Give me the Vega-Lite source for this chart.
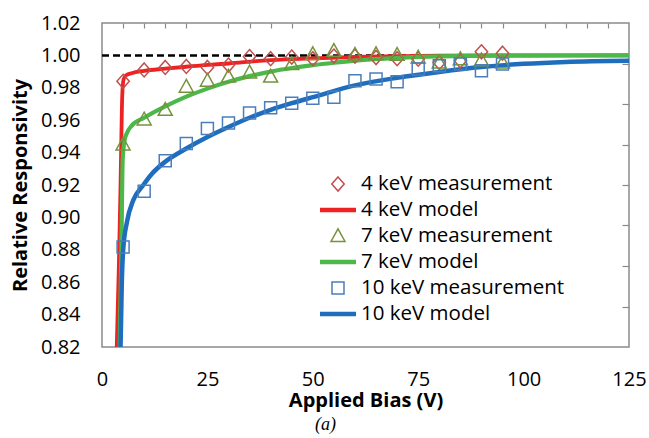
{
  "$schema": "https://vega.github.io/schema/vega-lite/v6.json",
  "width": 527,
  "height": 324,
  "autosize": "none",
  "padding": {"left": 102, "top": 23, "right": 20, "bottom": 91},
  "background": "white",
  "config": {
    "font": "Open Sans",
    "view": {"stroke": "#8a8a8a", "strokeWidth": 1.5},
    "axis": {"domain": false, "grid": true, "ticks": false, "tickSize": 0, "gridColor": "#8a8a8a", "gridWidth": 1.2, "gridOpacity": 1, "labelColor": "#000", "titleColor": "#000", "labelFont": "Open Sans", "titleFont": "Open Sans", "labelFontSize": 20, "titleFontSize": 20, "titleFontWeight": "bold", "labelOverlap": false, "labelFlush": false}
  },
  "title": {"text": "(a)", "orient": "bottom", "font": "Liberation Serif", "fontStyle": "italic", "fontWeight": "normal", "fontSize": 18, "color": "#000", "anchor": "middle", "dx": -40, "offset": 6},
  "datasets": {
    "meas": [
      {"series": "4 keV measurement", "x": 5, "y": 0.984}, {"series": "4 keV measurement", "x": 10, "y": 0.991}, {"series": "4 keV measurement", "x": 15, "y": 0.9926}, {"series": "4 keV measurement", "x": 20, "y": 0.9932}, {"series": "4 keV measurement", "x": 25, "y": 0.9926}, {"series": "4 keV measurement", "x": 30, "y": 0.994}, {"series": "4 keV measurement", "x": 35, "y": 0.9993}, {"series": "4 keV measurement", "x": 40, "y": 0.998}, {"series": "4 keV measurement", "x": 45, "y": 0.999}, {"series": "4 keV measurement", "x": 50, "y": 0.998}, {"series": "4 keV measurement", "x": 55, "y": 0.9996}, {"series": "4 keV measurement", "x": 60, "y": 0.9995}, {"series": "4 keV measurement", "x": 65, "y": 0.9987}, {"series": "4 keV measurement", "x": 70, "y": 0.998}, {"series": "4 keV measurement", "x": 75, "y": 0.9977}, {"series": "4 keV measurement", "x": 80, "y": 0.9956}, {"series": "4 keV measurement", "x": 85, "y": 0.9967}, {"series": "4 keV measurement", "x": 90, "y": 1.0022}, {"series": "4 keV measurement", "x": 95, "y": 1.0014},
      {"series": "7 keV measurement", "x": 5, "y": 0.945}, {"series": "7 keV measurement", "x": 10, "y": 0.9605}, {"series": "7 keV measurement", "x": 15, "y": 0.9664}, {"series": "7 keV measurement", "x": 20, "y": 0.9807}, {"series": "7 keV measurement", "x": 25, "y": 0.9844}, {"series": "7 keV measurement", "x": 30, "y": 0.9869}, {"series": "7 keV measurement", "x": 35, "y": 0.9895}, {"series": "7 keV measurement", "x": 40, "y": 0.9869}, {"series": "7 keV measurement", "x": 45, "y": 0.9947}, {"series": "7 keV measurement", "x": 50, "y": 1.0008}, {"series": "7 keV measurement", "x": 55, "y": 1.0028}, {"series": "7 keV measurement", "x": 60, "y": 1.0004}, {"series": "7 keV measurement", "x": 65, "y": 1.0008}, {"series": "7 keV measurement", "x": 70, "y": 1.0004}, {"series": "7 keV measurement", "x": 75, "y": 0.9987}, {"series": "7 keV measurement", "x": 80, "y": 0.9956}, {"series": "7 keV measurement", "x": 85, "y": 0.9977}, {"series": "7 keV measurement", "x": 90, "y": 0.997}, {"series": "7 keV measurement", "x": 95, "y": 0.9956},
      {"series": "10 keV measurement", "x": 5, "y": 0.8818}, {"series": "10 keV measurement", "x": 10, "y": 0.9161}, {"series": "10 keV measurement", "x": 15, "y": 0.935}, {"series": "10 keV measurement", "x": 20, "y": 0.9456}, {"series": "10 keV measurement", "x": 25, "y": 0.9548}, {"series": "10 keV measurement", "x": 30, "y": 0.9582}, {"series": "10 keV measurement", "x": 35, "y": 0.9644}, {"series": "10 keV measurement", "x": 40, "y": 0.9677}, {"series": "10 keV measurement", "x": 45, "y": 0.9705}, {"series": "10 keV measurement", "x": 50, "y": 0.9736}, {"series": "10 keV measurement", "x": 55, "y": 0.9742}, {"series": "10 keV measurement", "x": 60, "y": 0.9844}, {"series": "10 keV measurement", "x": 65, "y": 0.9855}, {"series": "10 keV measurement", "x": 70, "y": 0.9838}, {"series": "10 keV measurement", "x": 75, "y": 0.9916}, {"series": "10 keV measurement", "x": 80, "y": 0.9936}, {"series": "10 keV measurement", "x": 85, "y": 0.9947}, {"series": "10 keV measurement", "x": 90, "y": 0.9906}, {"series": "10 keV measurement", "x": 95, "y": 0.9947}
    ],
    "model": [
      {"series": "4 keV model", "x": 3.5, "y": 0.82}, {"series": "4 keV model", "x": 4.0, "y": 0.87}, {"series": "4 keV model", "x": 4.4, "y": 0.92}, {"series": "4 keV model", "x": 4.6, "y": 0.95}, {"series": "4 keV model", "x": 4.8, "y": 0.975}, {"series": "4 keV model", "x": 5.1, "y": 0.985}, {"series": "4 keV model", "x": 5.6, "y": 0.9875}, {"series": "4 keV model", "x": 7, "y": 0.989}, {"series": "4 keV model", "x": 10, "y": 0.9905}, {"series": "4 keV model", "x": 15, "y": 0.9918}, {"series": "4 keV model", "x": 20, "y": 0.993}, {"series": "4 keV model", "x": 30, "y": 0.995}, {"series": "4 keV model", "x": 40, "y": 0.9971}, {"series": "4 keV model", "x": 50, "y": 0.9982}, {"series": "4 keV model", "x": 60, "y": 0.999}, {"series": "4 keV model", "x": 70, "y": 0.9995}, {"series": "4 keV model", "x": 80, "y": 0.9998}, {"series": "4 keV model", "x": 100, "y": 1.0}, {"series": "4 keV model", "x": 125, "y": 1.0},
      {"series": "7 keV model", "x": 4.2, "y": 0.82}, {"series": "7 keV model", "x": 4.6, "y": 0.88}, {"series": "7 keV model", "x": 4.9, "y": 0.935}, {"series": "7 keV model", "x": 5.3, "y": 0.947}, {"series": "7 keV model", "x": 5.9, "y": 0.952}, {"series": "7 keV model", "x": 7, "y": 0.9565}, {"series": "7 keV model", "x": 10, "y": 0.9615}, {"series": "7 keV model", "x": 15, "y": 0.9685}, {"series": "7 keV model", "x": 20, "y": 0.9745}, {"series": "7 keV model", "x": 25, "y": 0.9795}, {"series": "7 keV model", "x": 30, "y": 0.9837}, {"series": "7 keV model", "x": 35, "y": 0.9872}, {"series": "7 keV model", "x": 40, "y": 0.99}, {"series": "7 keV model", "x": 45, "y": 0.9922}, {"series": "7 keV model", "x": 50, "y": 0.994}, {"series": "7 keV model", "x": 55, "y": 0.9955}, {"series": "7 keV model", "x": 60, "y": 0.9968}, {"series": "7 keV model", "x": 70, "y": 0.9985}, {"series": "7 keV model", "x": 80, "y": 0.9994}, {"series": "7 keV model", "x": 100, "y": 0.9999}, {"series": "7 keV model", "x": 125, "y": 1.0},
      {"series": "10 keV model", "x": 4.4, "y": 0.82}, {"series": "10 keV model", "x": 4.7, "y": 0.86}, {"series": "10 keV model", "x": 5.05, "y": 0.881}, {"series": "10 keV model", "x": 5.9, "y": 0.897}, {"series": "10 keV model", "x": 7.4, "y": 0.9105}, {"series": "10 keV model", "x": 9.8, "y": 0.92}, {"series": "10 keV model", "x": 11.8, "y": 0.9268}, {"series": "10 keV model", "x": 15, "y": 0.9344}, {"series": "10 keV model", "x": 20, "y": 0.9425}, {"series": "10 keV model", "x": 25, "y": 0.9496}, {"series": "10 keV model", "x": 30, "y": 0.9558}, {"series": "10 keV model", "x": 35, "y": 0.9615}, {"series": "10 keV model", "x": 40, "y": 0.9664}, {"series": "10 keV model", "x": 45, "y": 0.9705}, {"series": "10 keV model", "x": 50, "y": 0.9742}, {"series": "10 keV model", "x": 60, "y": 0.9815}, {"series": "10 keV model", "x": 70, "y": 0.9862}, {"series": "10 keV model", "x": 80, "y": 0.9898}, {"series": "10 keV model", "x": 90, "y": 0.9928}, {"series": "10 keV model", "x": 100, "y": 0.9948}, {"series": "10 keV model", "x": 110, "y": 0.996}, {"series": "10 keV model", "x": 125, "y": 0.9967}
    ],
    "ref": [{"x": 0, "x2": 125, "y": 1.0}]
  },
  "resolve": {"axis": {"x": "independent", "y": "independent"}},
  "layer": [
    {
      "data": {"name": "ref"},
      "mark": {"type": "rule", "color": "#000", "strokeWidth": 2.5, "strokeDash": [7, 4]},
      "encoding": {
        "x": {"field": "x", "type": "quantitative", "scale": {"domain": [0, 125], "nice": false, "zero": false},
          "axis": {"orient": "bottom", "title": null, "labels": false, "values": [5, 10, 15, 20, 30, 35, 40, 45, 55, 60, 65, 70, 80, 85, 90, 95, 105, 110, 115, 120], "gridDash": [5, 2000]}},
        "x2": {"field": "x2"},
        "y": {"field": "y", "type": "quantitative", "scale": {"domain": [0.82, 1.02], "nice": false, "zero": false},
          "axis": {"orient": "right", "title": null, "labels": false, "values": [0.845, 0.87, 0.895, 0.92, 0.945, 0.97, 0.995], "gridDash": [7, 2000]}}
      }
    },
    {
      "data": {"name": "model"},
      "mark": {"type": "line", "interpolate": "monotone", "clip": true},
      "encoding": {
        "x": {"field": "x", "type": "quantitative", "scale": {"domain": [0, 125], "nice": false, "zero": false},
          "axis": {"orient": "bottom", "title": "Applied Bias (V)", "values": [0, 25, 50, 75, 100, 125], "gridDash": [8, 2000], "labelPadding": 22, "titlePadding": 1}},
        "y": {"field": "y", "type": "quantitative", "scale": {"domain": [0.82, 1.02], "nice": false, "zero": false},
          "axis": {"orient": "left", "title": "Relative Responsivity", "values": [0.82, 0.84, 0.86, 0.88, 0.9, 0.92, 0.94, 0.96, 0.98, 1.0, 1.02], "format": ".2f", "gridDash": [8, 2000], "labelPadding": 22, "titlePadding": 10}},
        "color": {"field": "series", "type": "nominal",
          "scale": {"domain": ["4 keV measurement", "4 keV model", "7 keV measurement", "7 keV model", "10 keV measurement", "10 keV model"], "range": ["#C0504D", "#EE2222", "#76923C", "#4CB849", "#4A7EBB", "#1F6EBE"]},
          "legend": {"title": null, "orient": "none", "legendX": 225, "legendY": 150, "padding": 0, "symbolSize": 400, "symbolStrokeWidth": 1.5, "labelFont": "Open Sans", "labelFontSize": 20.5, "labelColor": "#000", "labelOffset": 12, "rowPadding": 4, "labelLimit": 400}},
        "strokeWidth": {"field": "series", "type": "nominal", "scale": {"domain": ["4 keV model", "7 keV model", "10 keV model"], "range": [3.8, 4.5, 4.8]}, "legend": null},
        "detail": {"field": "series"}
      }
    },
    {
      "data": {"name": "meas"},
      "mark": {"type": "point", "filled": false, "strokeWidth": 1.5, "opacity": 1, "size": 400},
      "encoding": {
        "x": {"field": "x", "type": "quantitative", "scale": {"domain": [0, 125], "nice": false, "zero": false},
          "axis": {"orient": "top", "title": null, "labels": false, "values": [5, 10, 15, 20, 25, 30, 35, 40, 45, 50, 55, 60, 65, 70, 75, 80, 85, 90, 95, 100, 105, 110, 115, 120], "gridDash": [6, 2000]}},
        "y": {"field": "y", "type": "quantitative", "scale": {"domain": [0.82, 1.02], "nice": false, "zero": false}, "axis": null},
        "color": {"field": "series", "type": "nominal",
          "scale": {"domain": ["4 keV measurement", "4 keV model", "7 keV measurement", "7 keV model", "10 keV measurement", "10 keV model"], "range": ["#C0504D", "#EE2222", "#76923C", "#4CB849", "#4A7EBB", "#1F6EBE"]},
          "legend": {"title": null, "orient": "none", "legendX": 225, "legendY": 150, "padding": 0, "symbolSize": 400, "symbolStrokeWidth": 1.5, "labelFont": "Open Sans", "labelFontSize": 20.5, "labelColor": "#000", "labelOffset": 12, "rowPadding": 4, "labelLimit": 400}},
        "shape": {"field": "series", "type": "nominal",
          "scale": {"domain": ["4 keV measurement", "4 keV model", "7 keV measurement", "7 keV model", "10 keV measurement", "10 keV model"], "range": ["M0,-0.7L0.62,0L0,0.7L-0.62,0Z", "M-1.8,-0.14H1.8M-1.8,0H1.8M-1.8,0.14H1.8", "M0,-0.72L0.7,0.55L-0.7,0.55Z", "M-1.8,-0.14H1.8M-1.8,0H1.8M-1.8,0.14H1.8", "M-0.6,-0.6H0.6V0.6H-0.6Z", "M-1.8,-0.14H1.8M-1.8,0H1.8M-1.8,0.14H1.8"]},
          "legend": {"title": null, "orient": "none", "legendX": 225, "legendY": 150, "padding": 0, "symbolSize": 400, "symbolStrokeWidth": 1.5, "labelFont": "Open Sans", "labelFontSize": 20.5, "labelColor": "#000", "labelOffset": 12, "rowPadding": 4, "labelLimit": 400}}
      }
    }
  ]
}
